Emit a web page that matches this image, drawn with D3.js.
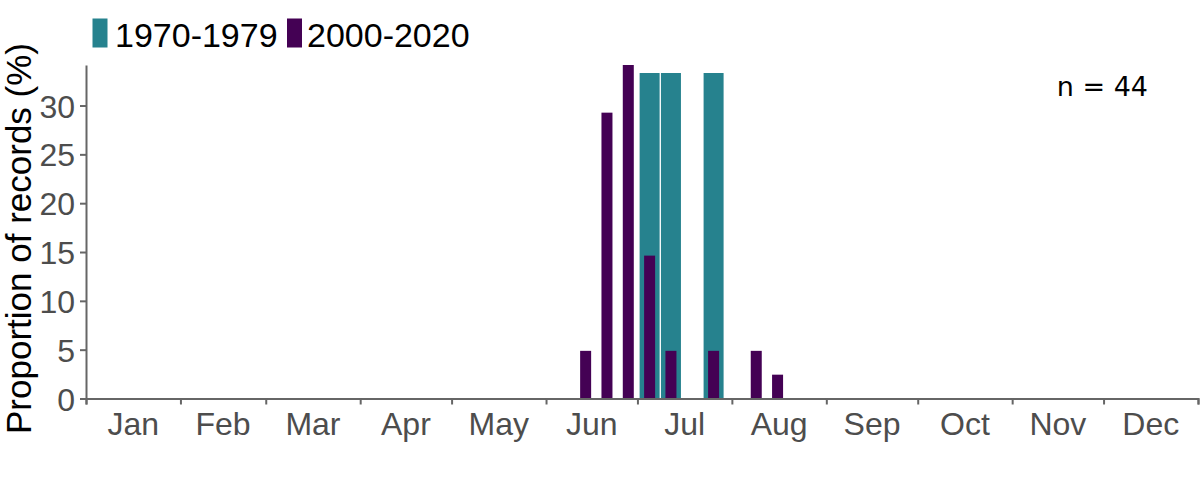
<!DOCTYPE html>
<html>
<head>
<meta charset="utf-8">
<script src="https://cdn.jsdelivr.net/npm/d3@7"></script>
<style>
  html, body { margin: 0; padding: 0; background: #ffffff; }
  svg { display: block; }
</style>
</head>
<body>
<svg id="chart" width="1200" height="480"></svg>
<script>
// ---- data ----
const months = ["Jan","Feb","Mar","Apr","May","Jun","Jul","Aug","Sep","Oct","Nov","Dec"];
const monthDays = [31,28,31,30,31,30,31,31,30,31,30,31];
const yTicks = [0,5,10,15,20,25,30];

const seriesNames = ["1970-1979","2000-2020"];
const seriesColors = ["#26828E","#440154"];

// week of year (1-based) and proportion of records (%)
const weeks1970 = [27, 28, 30];
const values1970 = [33.33, 33.33, 33.33];
const weeks2000 = [24, 25, 26, 27, 28, 30, 32, 33];
const values2000 = [4.88, 29.27, 34.15, 14.63, 4.88, 4.88, 4.88, 2.44];

const nLabel = "n = 44";
const yTitle = "Proportion of records (%)";

// ---- layout ----
const svg = d3.select("#chart");
const plotLeft = 86, plotRight = 1198, plotTop = 65, plotBottom = 398.5;

const monthStarts = [0];
monthDays.forEach((d, i) => monthStarts.push(monthStarts[i] + d));

const x = d3.scaleLinear().domain([0, 365]).range([plotLeft, plotRight]);
const yMax = d3.max(values2000.concat(values1970));
const y = d3.scaleLinear().domain([0, yMax]).range([plotBottom, plotTop]);

const weekCenter = w => x((w - 1) * 7 + 3);

// bars: 1970-1979 (wide) behind, 2000-2020 (narrow) in front
const data1970 = weeks1970.map((w, i) => ({w, v: values1970[i]}));
const data2000 = weeks2000.map((w, i) => ({w, v: values2000[i]}));

svg.append("g").selectAll("rect").data(data1970).join("rect")
  .attr("x", d => weekCenter(d.w) - 10)
  .attr("width", 20)
  .attr("y", d => y(d.v))
  .attr("height", d => y(0) - y(d.v))
  .attr("fill", seriesColors[0]);

svg.append("g").selectAll("rect").data(data2000).join("rect")
  .attr("x", d => weekCenter(d.w) - 5.5)
  .attr("width", 11)
  .attr("y", d => y(d.v))
  .attr("height", d => y(0) - y(d.v))
  .attr("fill", seriesColors[1]);

// ---- axes ----
const axisColor = "#666666";
const labelColor = "#4d4d4d";
const tickFont = "'Liberation Sans', Arial, sans-serif";

// x axis: ticks at month boundaries, labels at month middles
const xAxis = svg.append("g").attr("transform", `translate(0,${plotBottom})`)
  .call(d3.axisBottom(x).tickValues(monthStarts).tickSize(6).tickFormat(""));
xAxis.select(".domain").attr("stroke", axisColor).attr("stroke-width", 2);
xAxis.selectAll(".tick line").attr("stroke", axisColor).attr("stroke-width", 2);

svg.append("g").selectAll("text").data(months).join("text")
  .attr("x", (d, i) => x((monthStarts[i] + monthStarts[i + 1]) / 2))
  .attr("y", 435)
  .attr("text-anchor", "middle")
  .attr("font-family", tickFont)
  .attr("font-size", 32)
  .attr("fill", labelColor)
  .text(d => d);

// y axis
const yAxis = svg.append("g").attr("transform", `translate(${plotLeft},0)`)
  .call(d3.axisLeft(y).tickValues(yTicks).tickSize(6).tickPadding(5).tickSizeOuter(0));
yAxis.select(".domain").attr("stroke", axisColor).attr("stroke-width", 2);
yAxis.selectAll(".tick line").attr("stroke", axisColor).attr("stroke-width", 2);
yAxis.selectAll(".tick text")
  .attr("font-family", tickFont)
  .attr("font-size", 32)
  .attr("fill", labelColor)
  .attr("dy", "0.36em");

// y title
svg.append("text")
  .attr("transform", `translate(31,${(37 + 440) / 2}) rotate(-90)`)
  .attr("text-anchor", "middle")
  .attr("font-family", "'Liberation Sans', Arial, sans-serif")
  .attr("font-size", 35)
  .attr("fill", "#000")
  .text(yTitle);

// legend
const legendItems = [
  {name: seriesNames[0], color: seriesColors[0], rx: 92.5, tx: 115},
  {name: seriesNames[1], color: seriesColors[1], rx: 287, tx: 307}
];
const lg = svg.append("g");
legendItems.forEach(it => {
  lg.append("rect").attr("x", it.rx).attr("y", 18.5).attr("width", 15).attr("height", 29).attr("fill", it.color);
  lg.append("text").attr("x", it.tx).attr("y", 47)
    .attr("font-family", "'Liberation Sans', Arial, sans-serif")
    .attr("font-size", 34).attr("fill", "#000").text(it.name);
});

// n label
svg.append("text")
  .attr("x", 1148).attr("y", 95.5)
  .attr("text-anchor", "end")
  .attr("font-family", "'DejaVu Sans', Verdana, sans-serif")
  .attr("font-size", 27)
  .attr("fill", "#000")
  .text(nLabel);
</script>
</body>
</html>
